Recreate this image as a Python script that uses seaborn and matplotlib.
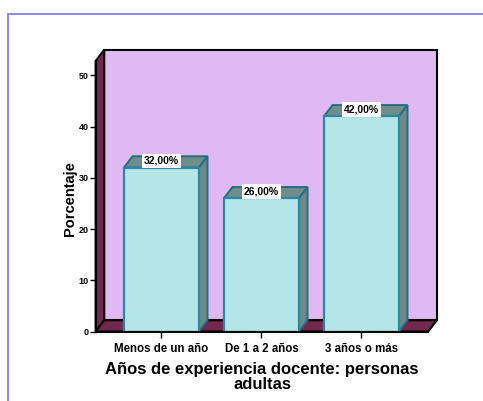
import matplotlib
matplotlib.use("Agg")
import matplotlib.pyplot as plt
import seaborn as sns
from matplotlib.patches import Polygon
from matplotlib.lines import Line2D

# data
categorias = ['Menos de un año', 'De 1 a 2 años', '3 años o más']
porcentajes = [32.0, 26.0, 42.0]
etiquetas = ['32,00%', '26,00%', '42,00%']
yticks = [0, 10, 20, 30, 40, 50]

sns.set_style("white")
plt.rcParams['font.family'] = ['Liberation Sans', 'DejaVu Sans']
plt.rcParams['text.color'] = 'black'

fig = plt.figure(figsize=(4.83, 4.01), dpi=100)
ax = fig.add_axes([0.198, 0.1733, 0.6886, 0.6746])

sns.barplot(x=categorias, y=porcentajes, color='#b4e6e8', saturation=1,
            width=0.75, edgecolor='#2a88a6', linewidth=1.6, ax=ax, zorder=3)
bars = list(ax.patches)

xmin, xmax = -0.658, 2.668
ymin, ymax = 0, 52.8
ax.set_xlim(xmin, xmax)
ax.set_ylim(ymin, ymax)
ax.patch.set_visible(False)

# depth of the fake 3d box (data units)
dx, dy = 0.086, 2.2

wall = '#e0b9f2'
floor = '#73284f'
back = Polygon([(xmin + dx, dy), (xmax + dx, dy), (xmax + dx, ymax + dy),
                (xmin + dx, ymax + dy)], closed=True, facecolor=wall,
               edgecolor='black', linewidth=1.5, clip_on=False, zorder=0.5)
ax.add_patch(back)
left = Polygon([(xmin, 0), (xmin + dx, dy), (xmin + dx, ymax + dy), (xmin, ymax)],
               closed=True, facecolor=floor, edgecolor='black', linewidth=1.5,
               clip_on=False, zorder=0.6)
ax.add_patch(left)
base = Polygon([(xmin, 0), (xmax, 0), (xmax + dx, dy), (xmin + dx, dy)],
               closed=True, facecolor=floor, edgecolor='black', linewidth=1.5,
               clip_on=False, zorder=0.6)
ax.add_patch(base)

# top and side faces of the bars
for bar, lab in zip(bars, etiquetas):
    x0 = bar.get_x()
    x1 = x0 + bar.get_width()
    h = bar.get_height()
    top = Polygon([(x0, h), (x1, h), (x1 + dx, h + dy), (x0 + dx, h + dy)],
                  closed=True, facecolor='#6f8e8b', edgecolor='#236f82',
                  linewidth=1.4, zorder=2.5, clip_on=False)
    side = Polygon([(x1, 0), (x1 + dx, dy), (x1 + dx, h + dy), (x1, h)],
                   closed=True, facecolor='#6b8a88', edgecolor='#236f82',
                   linewidth=1.4, zorder=2.5, clip_on=False)
    ax.add_patch(top)
    ax.add_patch(side)
    ax.text((x0 + x1) / 2, h + dy * 0.6, lab, ha='center', va='center',
            fontsize=7.5, fontweight='bold', color='black', zorder=5,
            bbox=dict(facecolor='white', edgecolor='none', pad=1.6))

ax.set_yticks(yticks)
ax.set_yticklabels([str(t) for t in yticks], fontsize=6.5, fontweight='bold')
ax.tick_params(axis='y', direction='out', length=4, width=1, pad=1, left=True,
               colors='black', labelcolor='black')
ax.tick_params(axis='x', direction='out', length=4, width=1, pad=4, bottom=True,
               colors='black', labelcolor='black')
for t in ax.get_xticklabels():
    t.set_fontsize(8.3)
    t.set_fontweight('bold')

for s in ['top', 'right']:
    ax.spines[s].set_visible(False)
for s in ['left', 'bottom']:
    ax.spines[s].set_color('black')
    ax.spines[s].set_linewidth(1.5)
    ax.spines[s].set_zorder(4)

ax.set_xlabel('')
ax.set_ylabel('')
fig.text(70 / 483, 1 - 199 / 401, 'Porcentaje', rotation=90, ha='center',
         va='center', fontsize=10.5, fontweight='bold', color='black')
fig.text(262 / 483, 1 - 377 / 401, 'Años de experiencia docente: personas\nadultas',
         ha='center', va='center', fontsize=12, fontweight='bold', color='black',
         linespacing=0.95)

# frame lines around the page
fig.add_artist(Line2D([7.5 / 483, 1], [1 - 13.5 / 401, 1 - 13.5 / 401],
                      color='#8080f0', linewidth=1.3))
fig.add_artist(Line2D([7.5 / 483, 7.5 / 483], [0, 1 - 13.5 / 401],
                      color='#8080f0', linewidth=1.3))

fig.savefig('out.png', dpi=100)
